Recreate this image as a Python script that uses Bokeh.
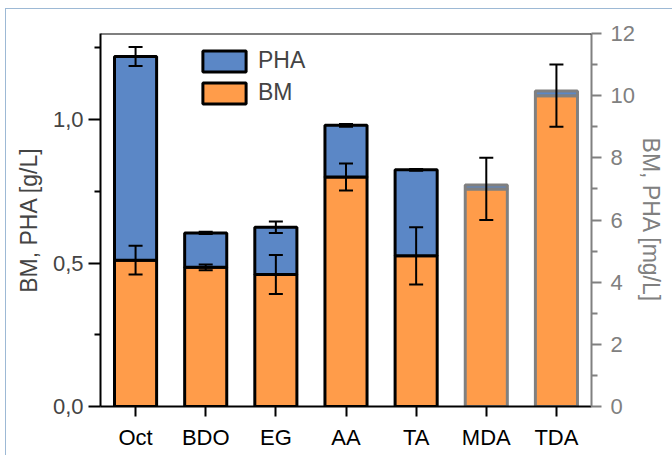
from bokeh.plotting import figure
from bokeh.models import (ColumnDataSource, FactorRange, Range1d, LinearAxis, FixedTicker,
                          CustomJSTickFormatter, Whisker, TeeHead, Legend, LegendItem, Span)
from bokeh.embed import file_html
from bokeh.resources import INLINE

# ---------------- data ----------------
categories = ["Oct", "BDO", "EG", "AA", "TA", "MDA", "TDA"]

# g/L group (left axis)
gl_cats = ["Oct", "BDO", "EG", "AA", "TA"]
gl_bm = [0.51, 0.485, 0.46, 0.80, 0.525]
gl_pha = [0.71, 0.12, 0.165, 0.18, 0.30]
gl_bm_err = [0.05, 0.01, 0.068, 0.047, 0.10]
gl_total_err = [0.033, 0.004, 0.02, 0.005, 0.003]

# mg/L group (right axis)
mg_cats = ["MDA", "TDA"]
mg_bm = [7.0, 10.0]
mg_pha = [0.13, 0.15]
mg_bm_err = [1.0, 1.0]

left_ticks = [0, 0.5, 1.0]
left_minor = [0.25, 0.75, 1.25]
right_ticks = [0, 2, 4, 6, 8, 10, 12]
right_minor = [1, 3, 5, 7, 9, 11]

ORANGE = "#FF9C4A"
BLUE = "#5B87C6"
GREY = "#808080"
FONT = "Liberation Sans"
EDGE = "#9DB9D5"

# ---------------- sources ----------------
gl_total = [b + p for b, p in zip(gl_bm, gl_pha)]
src_gl = ColumnDataSource(dict(
    cat=gl_cats, bm=gl_bm, pha=gl_pha,
    bm_lo=[b - e for b, e in zip(gl_bm, gl_bm_err)],
    bm_hi=[b + e for b, e in zip(gl_bm, gl_bm_err)],
    tot_lo=[t - e for t, e in zip(gl_total, gl_total_err)],
    tot_hi=[t + e for t, e in zip(gl_total, gl_total_err)],
))
src_mg = ColumnDataSource(dict(
    cat=mg_cats, bm=mg_bm, pha=mg_pha,
    bm_lo=[b - e for b, e in zip(mg_bm, mg_bm_err)],
    bm_hi=[b + e for b, e in zip(mg_bm, mg_bm_err)],
))

# ---------------- figure ----------------
p = figure(x_range=FactorRange(*categories), y_range=Range1d(0, 1.3),
           width=672, height=455, output_backend="svg", toolbar_location=None,
           min_border_left=100, min_border_right=81, min_border_top=33, min_border_bottom=49)
p.extra_y_ranges = {"mg": Range1d(0, 12)}
p.xgrid.visible = False
p.ygrid.visible = False
p.outline_line_color = None
p.background_fill_color = "white"
p.border_fill_color = None
p.styles = {
    "background-color": "white",
    "background-image": f"linear-gradient({EDGE},{EDGE}), linear-gradient({EDGE},{EDGE})",
    "background-size": "100% 1px, 1px 100%",
    "background-position": "5px 8px, 5px 8px",
    "background-repeat": "no-repeat",
}

# bars g/L
rs_gl = p.vbar_stack(["bm", "pha"], x="cat", width=0.6, source=src_gl,
                     fill_color=[ORANGE, BLUE], line_color="black", line_width=3)
# bars mg/L
rs_mg = p.vbar_stack(["bm", "pha"], x="cat", width=0.6, source=src_mg, y_range_name="mg",
                     fill_color=[ORANGE, BLUE], line_color=GREY, line_width=3)

# error bars
def tee():
    return TeeHead(size=14, line_width=2, line_color="black")

for lo, hi in (("bm_lo", "bm_hi"), ("tot_lo", "tot_hi")):
    w = Whisker(base="cat", lower=lo, upper=hi, source=src_gl, line_width=2,
                line_color="black", upper_head=tee(), lower_head=tee(), level="overlay")
    p.add_layout(w)
w = Whisker(base="cat", lower="bm_lo", upper="bm_hi", source=src_mg, y_range_name="mg",
            line_width=2, line_color="black", upper_head=tee(), lower_head=tee(), level="overlay")
p.add_layout(w)

# top frame line
p.add_layout(Span(location=1.3, dimension="width", line_color="black", line_width=2))

# x axis
xa = p.xaxis[0]
xa.axis_line_width = 2
xa.axis_line_color = "black"
xa.major_tick_line_width = 2
xa.major_tick_out = 10
xa.major_tick_in = 0
xa.minor_tick_line_color = None
xa.major_label_text_font = FONT
xa.major_label_text_font_size = "22px"
xa.major_label_text_color = "black"
xa.major_label_standoff = 8

# left axis
ya = p.yaxis[0]
ya.ticker = FixedTicker(ticks=left_ticks, minor_ticks=left_minor)
ya.formatter = CustomJSTickFormatter(code="return tick.toFixed(1).replace('.', ',');")
ya.axis_line_width = 2
ya.major_tick_line_width = 2
ya.minor_tick_line_width = 2
ya.major_tick_out = 12
ya.major_tick_in = 0
ya.minor_tick_out = 6
ya.minor_tick_in = 0
ya.major_label_text_font = FONT
ya.major_label_text_font_size = "22px"
ya.major_label_standoff = 5
ya.axis_label = "BM, PHA [g/L]"
ya.axis_label_text_font = FONT
ya.axis_label_text_font_size = "23px"
ya.axis_label_text_font_style = "normal"
ya.axis_label_standoff = 8

# right axis
ra = LinearAxis(y_range_name="mg", axis_label="BM, PHA [mg/L]",
                ticker=FixedTicker(ticks=right_ticks, minor_ticks=right_minor))
ra.axis_line_color = GREY
ra.axis_line_width = 2
ra.major_tick_line_color = GREY
ra.minor_tick_line_color = GREY
ra.major_tick_line_width = 2
ra.minor_tick_line_width = 2
ra.major_tick_out = 10
ra.major_tick_in = 0
ra.minor_tick_out = 6
ra.minor_tick_in = 0
ra.major_label_text_color = GREY
ra.major_label_text_font = FONT
ra.major_label_text_font_size = "22px"
ra.major_label_standoff = 9
ra.axis_label_text_color = GREY
ra.axis_label_text_font = FONT
ra.axis_label_text_font_size = "23px"
ra.axis_label_text_font_style = "normal"
ra.axis_label_standoff = 0
p.add_layout(ra, "right")

# legend
legend = Legend(items=[LegendItem(label="PHA", renderers=[rs_gl[1]]),
                       LegendItem(label="BM", renderers=[rs_gl[0]])],
                location=(97, 300), orientation="vertical",
                glyph_width=54, glyph_height=26, spacing=5, padding=0, margin=0,
                label_standoff=7, label_text_font=FONT, label_text_font_size="23px",
                border_line_color=None, background_fill_alpha=0)
p.add_layout(legend)

open("out.html", "w").write(file_html(p, INLINE))
